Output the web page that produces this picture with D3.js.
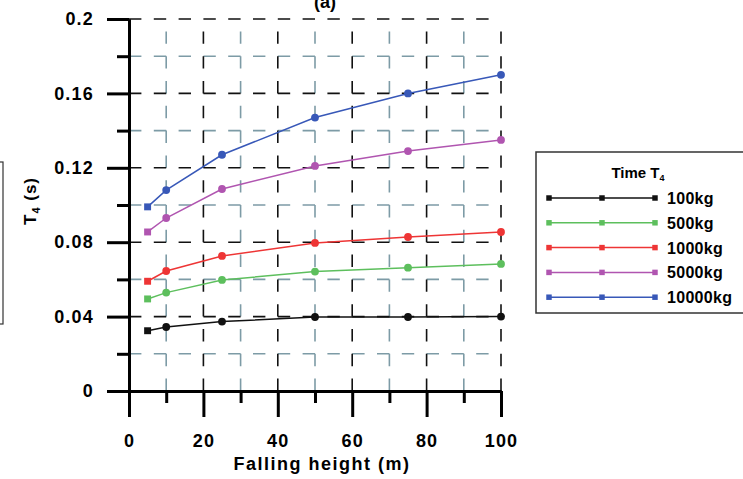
<!DOCTYPE html>
<html lang="en">
<head>
    <meta charset="UTF-8">
    <title>T4 vs falling height</title>
    <script src="https://d3js.org/d3.v7.min.js"></script>
    <style>
        body { margin: 0; background: #fff; }
        svg { font-family: "Liberation Sans", Arial, sans-serif; font-weight: bold; }
        .tick text { font-size: 18px; letter-spacing: 1.2px; fill: #000; font-family: "Liberation Sans", Arial, sans-serif; }
        .axis path, .axis line { stroke: #000; stroke-width: 3; }
    </style>
</head>
<body>
<svg width="743" height="479"></svg>
<script>
    // falling height (m)
    const heights = [5, 10, 25, 50, 75, 100];
    const seriesNames = ["100kg", "500kg", "1000kg", "5000kg", "10000kg"];
    const t100 = [0.0324, 0.0344, 0.0373, 0.0398, 0.0398, 0.0400];
    const t500 = [0.0495, 0.0529, 0.0597, 0.0642, 0.0663, 0.0683];
    const t1000 = [0.0590, 0.0645, 0.0726, 0.0796, 0.0828, 0.0855];
    const t5000 = [0.0855, 0.0930, 0.1086, 0.1210, 0.1290, 0.1350];
    const t10000 = [0.0990, 0.1080, 0.1270, 0.1470, 0.1600, 0.1700];
    const colors = ["#111111", "#5dbf5d", "#ee3535", "#b055b0", "#3858b8"];
    const yMajor = [0, 0.04, 0.08, 0.12, 0.16, 0.2];
    const yMinor = [0.02, 0.06, 0.1, 0.14, 0.18];
    const xMajor = [0, 20, 40, 60, 80, 100];
    const xMinor = [10, 30, 50, 70, 90];

    const allSeries = [t100, t500, t1000, t5000, t10000];

    const svg = d3.select("svg");
    const x = d3.scaleLinear().domain([0, 100]).range([129, 501]);
    const y = d3.scaleLinear().domain([0, 0.2]).range([391, 19]);
    const dash = (x(20) - x(0)) / 6;

    // grid: minor first, then major on top
    const grid = svg.append("g");
    function hLines(vals, color) {
        grid.selectAll(null).data(vals).enter().append("line")
            .attr("x1", x(0)).attr("x2", x(100))
            .attr("y1", d => y(d)).attr("y2", d => y(d))
            .attr("stroke", color).attr("stroke-width", 1.6)
            .attr("stroke-dasharray", `${dash},${dash}`);
    }
    function vLines(vals, color) {
        grid.selectAll(null).data(vals).enter().append("line")
            .attr("x1", d => x(d)).attr("x2", d => x(d))
            .attr("y1", y(0)).attr("y2", y(0.2))
            .attr("stroke", color).attr("stroke-width", 1.6)
            .attr("stroke-dasharray", `${dash},${dash}`);
    }
    hLines(yMinor, "#7d9ba6");
    vLines(xMinor, "#7d9ba6");
    hLines(yMajor.slice(1), "#111");
    vLines(xMajor.slice(1), "#111");

    // axes
    svg.append("g").attr("class", "axis")
        .attr("transform", `translate(${x(0)},0)`)
        .call(d3.axisLeft(y).tickValues(yMinor).tickSize(12).tickSizeOuter(0).tickFormat(""));
    svg.append("g").attr("class", "axis")
        .attr("transform", `translate(${x(0)},0)`)
        .call(d3.axisLeft(y).tickValues(yMajor).tickSize(22).tickSizeOuter(0).tickPadding(13)
            .tickFormat(d => d === 0 ? "0" : d3.format("")(+d.toFixed(2))));
    svg.append("g").attr("class", "axis")
        .attr("transform", `translate(0,${y(0)})`)
        .call(d3.axisBottom(x).tickValues(xMinor).tickSize(12).tickSizeOuter(0).tickFormat(""));
    svg.append("g").attr("class", "axis")
        .attr("transform", `translate(0,${y(0)})`)
        .call(d3.axisBottom(x).tickValues(xMajor).tickSize(26).tickSizeOuter(0).tickPadding(17));
    svg.selectAll(".axis .domain").attr("stroke-width", 3);

    // series
    const line = d3.line().x((d, i) => x(heights[i])).y(d => y(d));
    const sym = d3.symbol().size(48);
    allSeries.forEach((vals, s) => {
        const g = svg.append("g");
        g.append("path").datum(vals)
            .attr("d", line).attr("fill", "none")
            .attr("stroke", colors[s]).attr("stroke-width", 1.5);
        g.selectAll(null).data(vals).enter().append("path")
            .attr("transform", (d, i) => `translate(${x(heights[i])},${y(d)})`)
            .attr("d", (d, i) => sym.type(i === 0 ? d3.symbolSquare : d3.symbolCircle)())
            .attr("fill", colors[s]);
    });

    // titles
    svg.append("text").attr("x", 325).attr("y", 8)
        .attr("text-anchor", "middle").attr("font-size", 18).text("(a)");
    svg.append("text").attr("x", 322).attr("y", 470)
        .attr("text-anchor", "middle").attr("font-size", 18)
        .attr("letter-spacing", 1.5).text("Falling height (m)");
    const yt = svg.append("text")
        .attr("transform", "translate(36,201) rotate(-90)")
        .attr("text-anchor", "middle").attr("font-size", 17).attr("letter-spacing", 1);
    yt.append("tspan").text("T");
    yt.append("tspan").attr("font-size", 11).attr("dy", 4).text("4");
    yt.append("tspan").attr("dy", -4).text(" (s)");

    // cut-off box at left edge
    svg.append("rect").attr("x", -10).attr("y", 162).attr("width", 13).attr("height", 162)
        .attr("fill", "none").attr("stroke", "#333").attr("stroke-width", 1.2);

    // legend
    const lg = svg.append("g");
    lg.append("rect").attr("x", 536).attr("y", 152).attr("width", 220).attr("height", 161)
        .attr("fill", "#fff").attr("stroke", "#333").attr("stroke-width", 1.5);
    const lt = lg.append("text").attr("x", 638).attr("y", 178)
        .attr("text-anchor", "middle").attr("font-size", 15);
    lt.append("tspan").text("Time T");
    lt.append("tspan").attr("font-size", 9).attr("dy", 3).text("4");
    const legendSym = d3.symbol().type(d3.symbolSquare).size(30);
    seriesNames.forEach((name, s) => {
        const ly = 198 + s * 24.8;
        lg.append("line").attr("x1", 549).attr("x2", 655).attr("y1", ly).attr("y2", ly)
            .attr("stroke", colors[s]).attr("stroke-width", 1.5);
        [549, 602, 655].forEach(px => {
            lg.append("path").attr("d", legendSym()).attr("fill", colors[s])
                .attr("transform", `translate(${px},${ly})`);
        });
        lg.append("text").attr("x", 667).attr("y", ly + 6)
            .attr("font-size", 16).attr("letter-spacing", 0.3).text(name);
    });
</script>
</body>
</html>
